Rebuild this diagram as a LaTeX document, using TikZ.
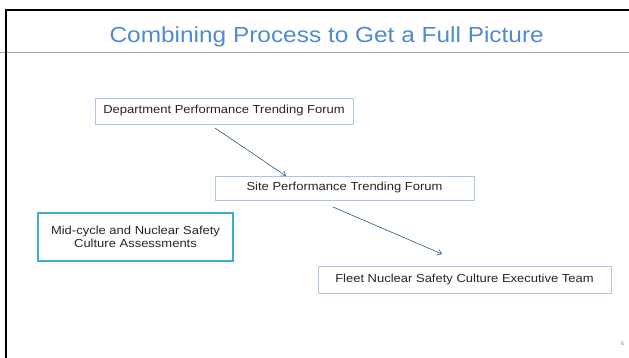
\documentclass[tikz,border=0pt]{standalone}
\usepackage{fontspec}
\setmainfont[FakeStretch=1.12]{Liberation Sans}
\usetikzlibrary{arrows.meta}
\definecolor{titleblue}{HTML}{4F8AD2}
\definecolor{boxedge}{HTML}{A9C6E8}
\definecolor{tealedge}{HTML}{3AAFC9}
\definecolor{arrowblue}{HTML}{1F5C87}
\begin{document}
\begin{tikzpicture}[x=1pt,y=-1pt,
  stagebox/.style={draw=boxedge,line width=0.9pt,fill=white,inner sep=0pt,
    font=\fontsize{11.6}{13.6}\selectfont,text=black!85},
  inputbox/.style={draw=tealedge,line width=1.4pt,fill=white,inner sep=0pt,
    align=center,font=\fontsize{11.6}{13.6}\selectfont,text=black!85},
  flow/.style={draw=arrowblue,line width=0.6pt,-{Straight Barb[length=4pt,width=6pt]}}]
  \useasboundingbox (0,0) rectangle (629,358);
  \fill[white] (0,0) rectangle (629,358);
  % slide frame
  \draw[gray!70,line width=1pt] (0,52.7) -- (629,52.7);
  \draw[black,line width=2pt] (629,9.8) -- (5.8,9.8) -- (5.8,358);
  % title
  \node[anchor=base,inner sep=0pt] (title) at (326.7,42.3) {\fontsize{21.8}{26}\selectfont\color{titleblue}Combining Process to Get a Full Picture};
  % process boxes
  \node[stagebox,minimum width=258pt,minimum height=26pt] (dept) at (224,111) {Department Performance Trending Forum};
  \node[stagebox,minimum width=259pt,minimum height=24pt] (site) at (344.5,188) {Site Performance Trending Forum};
  \node[inputbox,minimum width=195pt,minimum height=48pt] (mid) at (135.5,237) {Mid-cycle and Nuclear Safety\\Culture Assessments};
  \node[stagebox,minimum width=293pt,minimum height=27pt] (fleet) at (464.5,279.5) {Fleet Nuclear Safety Culture Executive Team};
  % connectors
  \coordinate (a1) at (215,128);
  \coordinate (a2) at (286,176);
  \coordinate (b1) at (333,207);
  \coordinate (b2) at (442,254);
  \draw[flow] (a1) -- (a2);
  \draw[flow] (b1) -- (b2);
  % page number
  \node[font=\fontsize{5}{6}\selectfont,text=gray] (pnum) at (622.5,344) {5};
\end{tikzpicture}
\end{document}
